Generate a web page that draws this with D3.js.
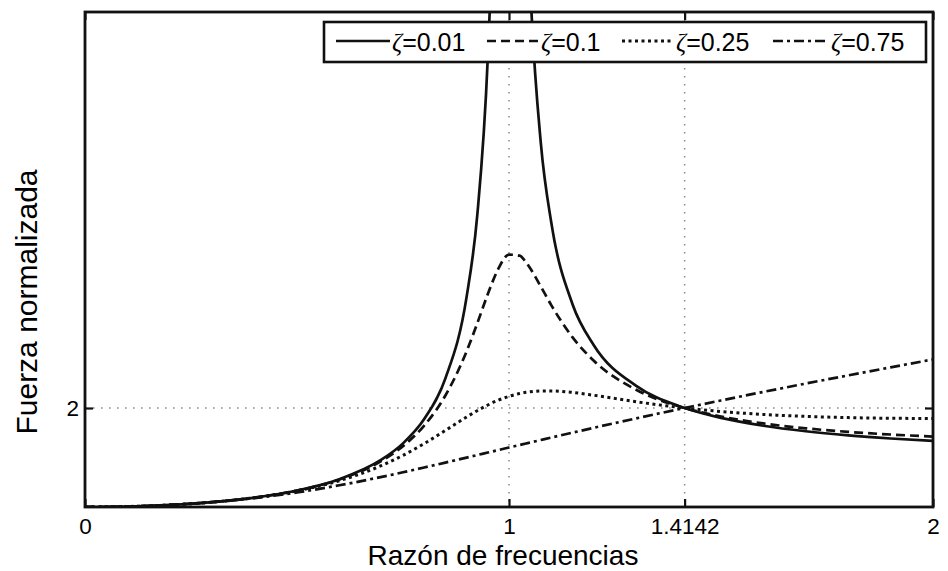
<!DOCTYPE html>
<html>
<head>
<meta charset="utf-8">
<script src="https://cdn.jsdelivr.net/npm/d3@7"></script>
<style>
  html, body { margin: 0; padding: 0; background: #fff; }
  svg { display: block; }
  text { font-family: "Liberation Sans", Arial, sans-serif; fill: #000; }
</style>
</head>
<body>
<svg id="chart" width="948" height="571"></svg>
<script>
// Frequency ratio r = omega / omega_n
const ratio = [0, 0.1, 0.2, 0.3, 0.4, 0.5, 0.6, 0.7, 0.75, 0.8, 0.85, 0.9, 0.925, 0.95, 0.96, 0.975,
  1.0, 1.025, 1.04, 1.05, 1.075, 1.1, 1.15, 1.2, 1.3, 1.4, 1.4142, 1.5, 1.6, 1.7, 1.8, 1.9, 2.0];

// Normalized transmitted force for each damping ratio
const force001 = [0, 0.0101, 0.0417, 0.0989, 0.1905, 0.3333, 0.5624, 0.9605, 1.2851, 1.7762, 2.5991, 4.2448, 5.8794, 9.0873, 11.419, 17.911,
  50.01, 19.240, 12.846, 10.540, 7.3576, 5.7319, 4.0915, 3.2688, 2.4484, 2.0416, 2.0, 1.8003, 1.6415, 1.5297, 1.4472, 1.3840, 1.3343];
const force010 = [0, 0.0101, 0.0417, 0.0989, 0.1902, 0.3321, 0.5568, 0.9355, 1.2298, 1.6452, 2.2520, 3.1446, 3.7080, 4.3017, 4.5250, 4.8149,
  5.0990, 5.0790, 4.9444, 4.8209, 4.4536, 4.0736, 3.4259, 2.9547, 2.3682, 2.0354, 2.0, 1.8274, 1.6879, 1.5895, 1.5178, 1.4642, 1.4234];
const force025 = [0, 0.0101, 0.0417, 0.0987, 0.1890, 0.3260, 0.5317, 0.8393, 1.0426, 1.2809, 1.5467, 1.8184, 1.9457, 2.0605, 2.1019, 2.1583,
  2.2361, 2.2924, 2.3161, 2.3279, 2.3446, 2.3456, 2.3140, 2.2570, 2.1263, 2.0137, 2.0, 1.9294, 1.8700, 1.8303, 1.8057, 1.7927, 1.7889];
const force075 = [0, 0.0101, 0.0415, 0.0972, 0.1808, 0.2946, 0.4386, 0.6087, 0.7014, 0.7980, 0.8972, 0.9982, 1.0490, 1.1000, 1.1204, 1.1509,
  1.2019, 1.2526, 1.2830, 1.3032, 1.3535, 1.4036, 1.5026, 1.6002, 1.7905, 1.9743, 2.0, 2.1524, 2.3253, 2.4939, 2.6591, 2.8214, 2.9814];

const dampingLabels = ["0.01", "0.1", "0.25", "0.75"];
const xTicks = [0, 1, 1.4142, 2];
const xTickLabels = ["0", "1", "1.4142", "2"];
const yTicks = [2];
const yTickLabels = ["2"];
const xDomain = [0, 2];
const yDomain = [0, 10];

const series = [
  { values: force001, label: dampingLabels[0], dash: null, width: 2.7 },
  { values: force010, label: dampingLabels[1], dash: "9,5", width: 2.7 },
  { values: force025, label: dampingLabels[2], dash: "3,3.5", width: 3 },
  { values: force075, label: dampingLabels[3], dash: "10,4,3,4", width: 2.7 }
];

const svg = d3.select("#chart");
const plot = { left: 85, right: 933, top: 12, bottom: 507 };

const x = d3.scaleLinear().domain(xDomain).range([plot.left, plot.right]);
const y = d3.scaleLinear().domain(yDomain).range([plot.bottom, plot.top]);

svg.append("defs").append("clipPath").attr("id", "plot-clip")
  .append("rect")
  .attr("x", plot.left).attr("y", plot.top)
  .attr("width", plot.right - plot.left).attr("height", plot.bottom - plot.top);

// Dotted grid at the labelled ticks
const grid = svg.append("g").attr("stroke", "#8a8a8a").attr("stroke-width", 1.5)
  .attr("stroke-dasharray", "1.6,6.4");
xTicks.filter(v => v > xDomain[0] && v < xDomain[1]).forEach(v => {
  grid.append("line").attr("x1", x(v)).attr("x2", x(v)).attr("y1", plot.top).attr("y2", plot.bottom);
});
yTicks.forEach(v => {
  grid.append("line").attr("x1", plot.left).attr("x2", plot.right).attr("y1", y(v)).attr("y2", y(v));
});

// Curves
const line = d3.line()
  .x((d, i) => x(ratio[i]))
  .y(d => y(d))
  .curve(d3.curveMonotoneX);

const curves = svg.append("g").attr("clip-path", "url(#plot-clip)");
series.forEach(s => {
  curves.append("path")
    .attr("d", line(s.values))
    .attr("fill", "none")
    .attr("stroke", "#111")
    .attr("stroke-width", s.width)
    .attr("stroke-dasharray", s.dash)
    .attr("stroke-linejoin", "round");
});

// Axes with inward ticks on all four sides
const axisStyle = g => {
  g.select(".domain").remove();
  g.selectAll(".tick line").attr("stroke", "#111").attr("stroke-width", 2.2);
  g.selectAll("text").attr("font-size", 22.5).attr("fill", "#000")
    .attr("font-family", "Liberation Sans, Arial, sans-serif");
};

svg.append("g").attr("transform", `translate(0,${plot.bottom})`)
  .call(d3.axisBottom(x).tickValues(xTicks).tickSize(-8).tickPadding(11)
    .tickFormat((d, i) => xTickLabels[i]))
  .call(axisStyle);

svg.append("g").attr("transform", `translate(0,${plot.top})`)
  .call(d3.axisTop(x).tickValues(xTicks).tickSize(-8).tickFormat(""))
  .call(axisStyle);

svg.append("g").attr("transform", `translate(${plot.left},0)`)
  .call(d3.axisLeft(y).tickValues(yTicks).tickSize(-8).tickPadding(6)
    .tickFormat((d, i) => yTickLabels[i]))
  .call(axisStyle);

svg.append("g").attr("transform", `translate(${plot.right},0)`)
  .call(d3.axisRight(y).tickValues(yTicks).tickSize(-8).tickFormat(""))
  .call(axisStyle);

// Frame
svg.append("rect")
  .attr("x", plot.left).attr("y", plot.top)
  .attr("width", plot.right - plot.left).attr("height", plot.bottom - plot.top)
  .attr("fill", "none").attr("stroke", "#111").attr("stroke-width", 2.8);

// Axis titles
svg.append("text")
  .attr("x", 503).attr("y", 565)
  .attr("text-anchor", "middle")
  .attr("font-size", 28)
  .text("Razón de frecuencias");

svg.append("text")
  .attr("transform", "translate(37,302) rotate(-90)")
  .attr("text-anchor", "middle")
  .attr("font-size", 30)
  .text("Fuerza normalizada");

// Legend
const legend = svg.append("g");
legend.append("rect")
  .attr("x", 324).attr("y", 22).attr("width", 602).attr("height", 40)
  .attr("fill", "#fff").attr("stroke", "#111").attr("stroke-width", 2.6);

const legendItems = [
  { x0: 336, x1: 390 },
  { x0: 487, x1: 539 },
  { x0: 622, x1: 674 },
  { x0: 773, x1: 829 }
];
series.forEach((s, i) => {
  const it = legendItems[i];
  legend.append("line")
    .attr("x1", it.x0).attr("x2", it.x1).attr("y1", 41).attr("y2", 41)
    .attr("stroke", "#111").attr("stroke-width", s.width)
    .attr("stroke-dasharray", s.dash);
  const t = legend.append("text")
    .attr("x", it.x1 + 2).attr("y", 51)
    .attr("font-size", 25);
  t.append("tspan")
    .attr("font-family", "Liberation Serif, Times New Roman, serif")
    .attr("font-style", "italic")
    .text("ζ");
  t.append("tspan").text("=" + s.label);
});
</script>
</body>
</html>
